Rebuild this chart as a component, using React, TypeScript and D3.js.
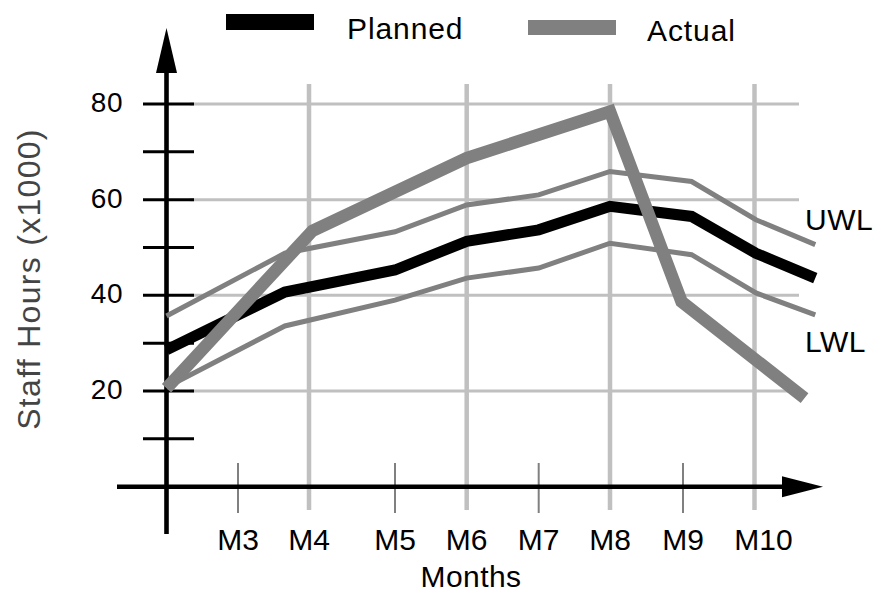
import React from "react";
import * as d3 from "d3";

// ---- data ----
const monthLabels = ["M3", "M4", "M5", "M6", "M7", "M8", "M9", "M10"];
const monthValues = [3, 4, 5, 6, 7, 8, 9, 10];
const majorMonths = [4, 6, 8, 10];
const minorMonths = [3, 5, 7, 9];
const yLabelTicks = [20, 40, 60, 80];
const yMinorTicks = [10, 30, 50, 70];

const limitX = [2, 3.66, 5, 6, 7, 8, 9.12, 10.02, 10.85];
const plannedY = [28.6, 40.7, 45.3, 51.3, 53.7, 58.6, 56.5, 48.8, 43.6];
const uwlY = [35.7, 48.8, 53.3, 58.9, 61, 65.9, 63.8, 55.8, 50.6];
const lwlY = [20.8, 33.6, 39, 43.6, 45.7, 50.9, 48.5, 40.5, 35.9];
const actualX = [2, 4.04, 6, 8, 8.98, 10.7];
const actualY = [20.6, 53.5, 68.7, 78.4, 38.7, 18.5];

const FONT = "'Liberation Sans', Arial, Helvetica, sans-serif";

export default function App() {
  const W = 873;
  const H = 593;
  const x = d3
    .scaleLinear()
    .domain([2, 3, 4, 5, 6, 7, 8, 9, 10])
    .range([166.5, 238, 309, 395, 466.7, 538.7, 610, 683, 754.5]);
  const y = d3.scaleLinear().domain([0, 80]).range([486.7, 104]);

  const line = d3
    .line<[number, number]>()
    .x((d) => x(d[0]))
    .y((d) => y(d[1]));

  const zip = (xs: number[], ys: number[]) =>
    xs.map((v, i) => [v, ys[i]] as [number, number]);

  const axisX = x(2);
  const axisY = y(0);

  return (
    <svg
      width={W}
      height={H}
      style={{ position: "absolute", left: 0, top: 0, background: "#fff" }}
      fontFamily={FONT}
    >
      {/* horizontal gridlines */}
      {yLabelTicks.map((v) => (
        <line
          key={"hg" + v}
          x1={190}
          x2={799}
          y1={y(v)}
          y2={y(v)}
          stroke="#c0c0c0"
          strokeWidth={3}
        />
      ))}
      {/* vertical major gridlines */}
      {majorMonths.map((m) => (
        <line
          key={"vg" + m}
          x1={x(m)}
          x2={x(m)}
          y1={84}
          y2={510}
          stroke="#c0c0c0"
          strokeWidth={4.5}
        />
      ))}
      {/* minor month ticks */}
      {minorMonths.map((m) => (
        <line
          key={"mt" + m}
          x1={x(m)}
          x2={x(m)}
          y1={463}
          y2={513}
          stroke="#808080"
          strokeWidth={2}
        />
      ))}
      {/* y ticks */}
      {[...yLabelTicks, ...yMinorTicks].map((v) => (
        <line
          key={"yt" + v}
          x1={143}
          x2={194}
          y1={y(v)}
          y2={y(v)}
          stroke="#000"
          strokeWidth={3}
        />
      ))}
      {/* axes */}
      <line x1={axisX} x2={axisX} y1={534} y2={70} stroke="#000" strokeWidth={4.6} />
      <path
        d={`M${axisX},28 L${axisX - 10.5},73 L${axisX + 10.5},73 Z`}
        fill="#000"
      />
      <line x1={117} x2={785} y1={axisY} y2={axisY} stroke="#000" strokeWidth={4.6} />
      <path
        d={`M823,${axisY} L782,${axisY - 10.5} L782,${axisY + 10.5} Z`}
        fill="#000"
      />
      {/* y tick labels */}
      {yLabelTicks.map((v) => (
        <text
          key={"yl" + v}
          x={123}
          y={y(v) + 8}
          textAnchor="end"
          fontSize={28}
          letterSpacing={0.5}
          fill="#000"
        >
          {v}
        </text>
      ))}
      {/* x tick labels */}
      {monthValues.map((m, i) => (
        <text
          key={"xl" + m}
          x={x(m) + (i === monthValues.length - 1 ? 9 : 0)}
          y={550}
          textAnchor="middle"
          fontSize={30}
          fill="#000"
        >
          {monthLabels[i]}
        </text>
      ))}
      <text x={471} y={587} textAnchor="middle" fontSize={30} letterSpacing={0.4} fill="#000">
        Months
      </text>
      <text
        transform="translate(40,279) rotate(-90)"
        textAnchor="middle"
        fontSize={32}
        letterSpacing={1.3}
        fill="#444"
      >
        Staff Hours (x1000)
      </text>

      {/* series */}
      <path
        d={line(zip(limitX, lwlY)) || ""}
        fill="none"
        stroke="#808080"
        strokeWidth={5}
        strokeLinejoin="miter"
      />
      <path
        d={line(zip(limitX, uwlY)) || ""}
        fill="none"
        stroke="#808080"
        strokeWidth={5}
        strokeLinejoin="miter"
      />
      <path
        d={line(zip(limitX, plannedY)) || ""}
        fill="none"
        stroke="#000"
        strokeWidth={11}
        strokeLinejoin="miter"
      />
      <path
        d={line(zip(actualX, actualY)) || ""}
        fill="none"
        stroke="#808080"
        strokeWidth={12.5}
        strokeLinejoin="miter"
        strokeMiterlimit={10}
      />

      {/* limit labels */}
      <text x={805} y={230} fontSize={30} letterSpacing={0.5} fill="#000">
        UWL
      </text>
      <text x={805} y={352} fontSize={30} letterSpacing={0.5} fill="#000">
        LWL
      </text>

      {/* legend */}
      <rect x={226} y={14} width={88} height={16} fill="#000" />
      <text x={347} y={39} fontSize={30} letterSpacing={0.9} fill="#000">
        Planned
      </text>
      <rect x={528} y={20} width={88} height={15} fill="#808080" />
      <text x={647} y={41} fontSize={30} letterSpacing={0.9} fill="#000">
        Actual
      </text>
    </svg>
  );
}
